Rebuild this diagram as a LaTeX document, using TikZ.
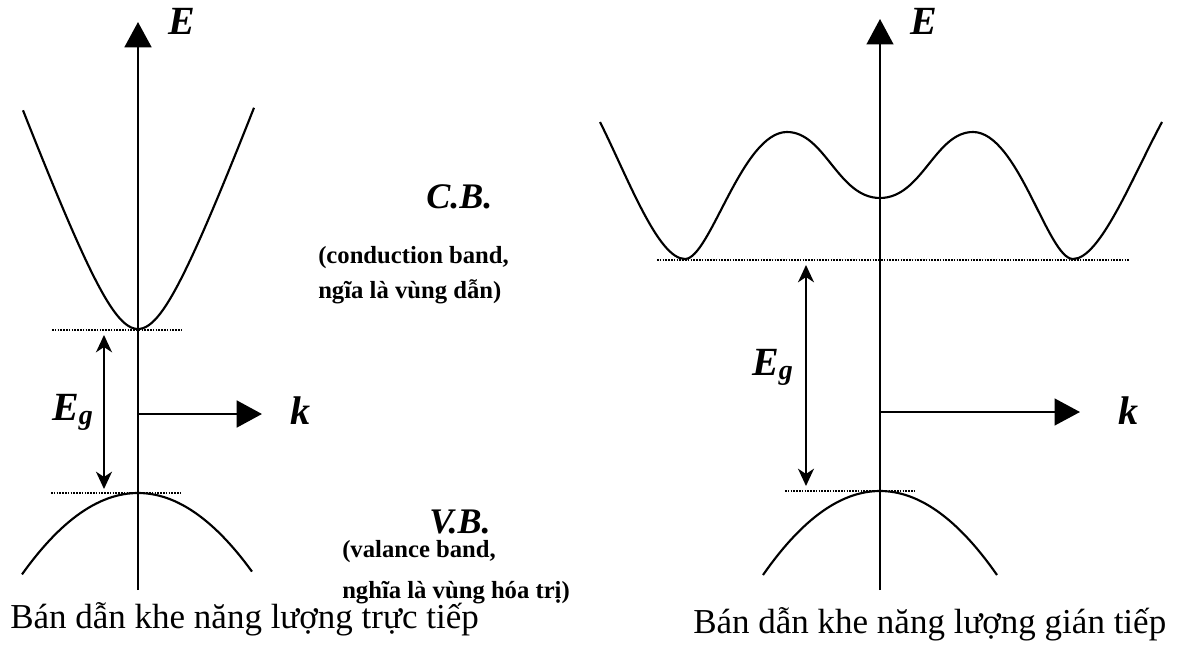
\documentclass[tikz,border=0pt]{standalone}
\usepackage{fontspec}
\setmainfont{Liberation Serif}
\usetikzlibrary{arrows.meta}
\begin{document}
\begin{tikzpicture}[x=0.75pt,y=-0.75pt,
  axisL/.style={line width=2.2pt,-{Triangle[length=19pt,width=20pt]}},
  axisR/.style={line width=1.6pt,-{Triangle[length=19pt,width=20pt]}},
  band/.style={line width=1.6pt},
  level/.style={line width=0.8pt,dash pattern=on 1.2pt off 0.9pt},
  gapL/.style={line width=1.6pt,{Stealth[length=13pt,width=12pt,inset=4pt]}-{Stealth[length=13pt,width=12pt,inset=4pt]}},
  gapR/.style={line width=1.4pt,{Stealth[length=13pt,width=12pt,inset=4pt]}-{Stealth[length=13pt,width=12pt,inset=4pt]}},
  sym/.style={font=\fontsize{30}{36}\selectfont\bfseries\itshape,inner sep=0pt},
  bandname/.style={font=\fontsize{27}{32}\selectfont\bfseries\itshape,inner sep=0pt,anchor=base west},
  note/.style={font=\fontsize{18.5}{22}\selectfont\bfseries,inner sep=0pt,anchor=base west},
  caption/.style={font=\fontsize{26.25}{31}\selectfont,inner sep=0pt,anchor=base west}
]
\useasboundingbox (0,0) rectangle (1179,646);

% ---------- left: direct gap ----------
\coordinate (LEbot) at (138,590);
\coordinate (LEtop) at (138,22);
\coordinate (Lk0) at (138,414);
\coordinate (Lktip) at (262,414);
\draw[axisL] (LEbot) -- (LEtop);
\draw[axisL] (Lk0) -- (Lktip);
\coordinate (Lcb1) at (52,330);
\coordinate (Lcb2) at (183,330);
\coordinate (Lvb1) at (51,493);
\coordinate (Lvb2) at (180,493);
\draw[level] (Lcb1) -- (Lcb2);
\draw[level] (Lvb1) -- (Lvb2);
\coordinate (LgapT) at (104,335);
\coordinate (LgapB) at (104,489);
\draw[gapL] (LgapT) -- (LgapB);
\draw[band] plot[domain=-115:116,samples=80] ({138+\x},{329-107*(sqrt(1+(\x/40)^2)-1)});
\draw[band] plot[domain=-116:114,samples=60] ({138+\x},{493+80*(\x/115)^2});

\node[sym,anchor=base west] (LE) at (168,35) {E};
\node[sym] (Lk) at (300,411) {k};
\node[sym,anchor=base west] (LEg) at (52,420) {E\textsubscript{g}};

\node[bandname] (CB) at (426,208) {C.B.};
\node[note] (cb1) at (318,263) {(conduction band,};
\node[note] (cb2) at (318,298) {ngĩa là vùng dẫn)};
\node[bandname] (VB) at (429,533) {V.B.};
\node[note] (vb1) at (342,557) {(valance band,};
\node[note] (vb2) at (342,598) {nghĩa là vùng hóa trị)};

\node[caption] (capL) at (10,628) {Bán dẫn khe năng lượng trực tiếp};

% ---------- right: indirect gap ----------
\coordinate (REbot) at (880,590);
\coordinate (REtop) at (880,19);
\coordinate (Rk0) at (880,412);
\coordinate (Rktip) at (1080,412);
\draw[axisR] (REbot) -- (REtop);
\draw[axisR] (Rk0) -- (Rktip);
\coordinate (Rcb1) at (657,260);
\coordinate (Rcb2) at (1130,260);
\coordinate (Rvb1) at (785,491);
\coordinate (Rvb2) at (916,491);
\draw[level] (Rcb1) -- (Rcb2);
\draw[level] (Rvb1) -- (Rvb2);
\coordinate (RgapT) at (806,265);
\coordinate (RgapB) at (806,486);
\draw[gapR] (RgapT) -- (RgapB);

\draw[band] (600,122) .. controls (628,178) and (658,259) .. (685,259)
  .. controls (710,259) and (742,132) .. (787,132)
  .. controls (825,132) and (838,198) .. (880,198)
  .. controls (922,198) and (935,132) .. (973,132)
  .. controls (1018,132) and (1048,259) .. (1073,259)
  .. controls (1100,259) and (1132,178) .. (1162,122);
\draw[band] plot[domain=-117:117,samples=60] ({880+\x},{491+84*(\x/117)^2});

\node[sym,anchor=base west] (RE) at (910,35) {E};
\node[sym] (Rk) at (1128,411) {k};
\node[sym,anchor=base west] (REg) at (752,375) {E\textsubscript{g}};

\node[caption] (capR) at (693,633) {Bán dẫn khe năng lượng gián tiếp};
\end{tikzpicture}
\end{document}
